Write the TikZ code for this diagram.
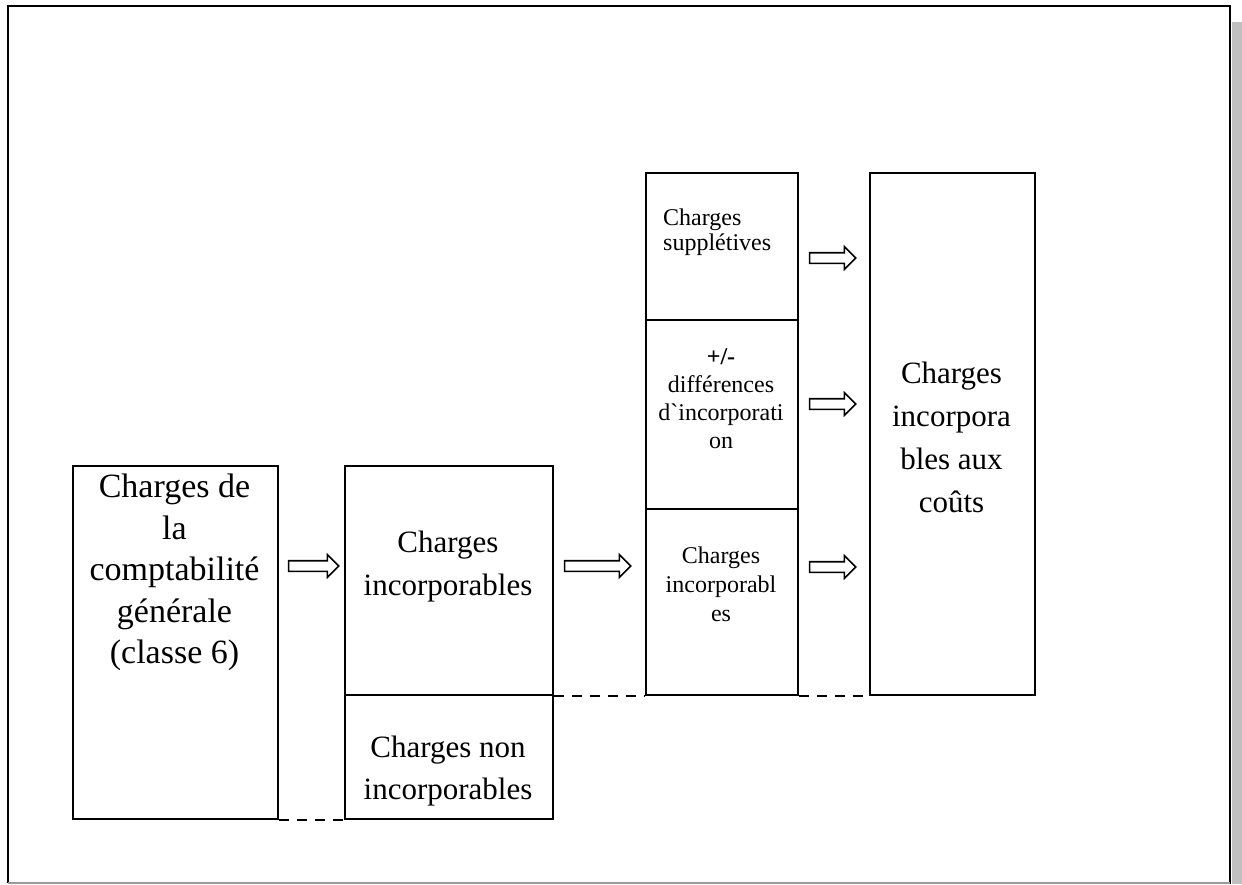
\documentclass[tikz,border=0pt]{standalone}
\usepackage{fontspec}
\setmainfont{Liberation Serif}
% same face without the TeX quote ligatures, for a plain grave mark
\newfontfamily\rawserif[Ligatures=TeXOff]{Liberation Serif}
\usetikzlibrary{shapes.arrows}
\definecolor{shadowgray}{HTML}{C0C0C0}
\begin{document}
\begin{tikzpicture}[x=1pt,y=-1pt,
  box/.style={draw, line width=1.8pt, anchor=north west, inner sep=0pt},
  bigtext/.style={font=\fontsize{31}{43}\selectfont, align=center, anchor=north, inner sep=0pt},
  smalltext/.style={font=\fontsize{24}{28}\selectfont, align=center, anchor=north, inner sep=0pt},
  hollowarrow/.style={single arrow, draw, fill=white, line width=1.6pt,
    minimum width=22pt, single arrow head extend=6pt, single arrow tip angle=90,
    inner xsep=0pt, inner ysep=4.5pt, anchor=center},
  link/.style={line width=2pt, dash pattern=on 10pt off 8pt}
]
\useasboundingbox (0,0) rectangle (1242,884);

% page frame and its shadow
\fill[shadowgray] (1232,22) rectangle (1242,884);
\draw[line width=2pt] (8,883) -- (8,6) -- (1230,6) -- (1230,884);
\draw[line width=1.5pt, shadowgray!80!black] (8,883) -- (1230,883);

% first column
\node[box, minimum width=205pt, minimum height=353pt] (gen) at (72,465) {};
\node[bigtext, font=\fontsize{34}{41.5}\selectfont] (genlbl) at (174.5,474) {Charges de\\la\\comptabilité\\générale\\(classe 6)};

% second column
\node[box, minimum width=208pt, minimum height=229pt] (inc) at (344,465) {};
\node[box, minimum width=208pt, minimum height=124pt] (noninc) at (344,694) {};
\node[bigtext] (inclbl) at (448,530.5) {Charges\\incorporables};
\node[bigtext, font=\fontsize{31}{42}\selectfont] (noninclbl) at (448,736) {Charges non\\incorporables};

% third column
\node[box, minimum width=152pt, minimum height=147pt] (suppl) at (645,172) {};
\node[box, minimum width=152pt, minimum height=189pt] (diff) at (645,319) {};
\node[box, minimum width=152pt, minimum height=186pt] (incb) at (645,508) {};
\node[smalltext, align=left, anchor=north west, font=\fontsize{24}{25}\selectfont] (suppllbl) at (663,209) {Charges\\supplétives};
\node[smalltext] (difflbl) at (721,348) {\textbf{+/-}\\différences\\d{\rawserif`}incorporati\\on};
\node[smalltext, font=\fontsize{24}{29}\selectfont] (incblbl) at (721,546.5) {Charges\\incorporabl\\es};

% fourth column
\node[box, minimum width=165pt, minimum height=522pt] (couts) at (869,172) {};
\node[bigtext] (coutslbl) at (951.5,362) {Charges\\incorpora\\bles aux\\coûts};

% hollow arrows between the columns
\node[hollowarrow, minimum height=50pt] (a1) at (311,566) {};
\node[hollowarrow, minimum height=66pt] (a2) at (595,566) {};
\node[hollowarrow, minimum height=46pt] (a3) at (830,258) {};
\node[hollowarrow, minimum height=46pt] (a4) at (830,404) {};
\node[hollowarrow, minimum height=46pt] (a5) at (830,567) {};

% dashed links along the bottom edges
\draw[link] (gen.south east) -- (noninc.south west);
\draw[link] (inc.south east) -- (incb.south west);
\draw[link] (incb.south east) -- (couts.south west);
\end{tikzpicture}
\end{document}
